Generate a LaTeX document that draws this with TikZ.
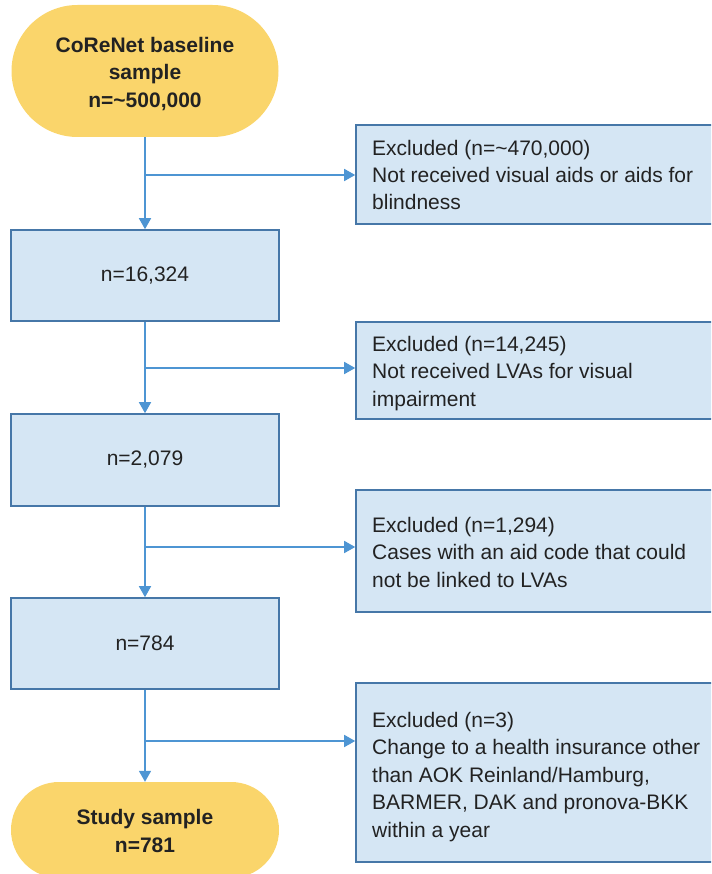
\documentclass[tikz,border=0pt]{standalone}
\usepackage{fontspec}
\setmainfont{Liberation Sans}
\usetikzlibrary{arrows.meta}
\definecolor{ovalfill}{HTML}{FAD56B}
\definecolor{boxfill}{HTML}{D5E6F4}
\definecolor{boxline}{HTML}{4677A8}
\definecolor{arrowc}{HTML}{4E95D3}
\definecolor{txt}{HTML}{222222}
\tikzset{
  oval/.style={draw=none, fill=ovalfill, rounded corners=#1, inner sep=0pt},
  ovaltext/.style={align=center, inner sep=0pt, text=txt, font=\fontsize{21}{27.5}\selectfont\bfseries},
  leftbox/.style={draw=boxline, fill=boxfill, line width=1.6pt, minimum width=268pt, inner sep=0pt,
    text=txt, font=\fontsize{21}{27}\selectfont},
  rightbox/.style={draw=boxline, fill=boxfill, line width=1.6pt, minimum width=358pt, inner sep=0pt},
  rtext/.style={anchor=base west, align=left, inner sep=0pt, text=txt, font=\fontsize{21}{27.4}\selectfont},
  flow/.style={draw=arrowc, line width=1.6pt, -{Triangle[length=11pt,width=12pt]}},
}
\begin{document}
\begin{tikzpicture}[x=1pt,y=-1pt]
\useasboundingbox (0,0) rectangle (711,874);
\clip (0,0) rectangle (711,874);
% left column
\node[oval=66pt, minimum width=267pt, minimum height=132pt] (start) at (145,71) {};
\node[ovaltext] (starttxt) at (145,74) {CoReNet baseline\\sample\\n=\textasciitilde500,000};
\node[leftbox, minimum height=91pt] (b1) at (145,275.5) {n=16,324};
\node[leftbox, minimum height=92pt] (b2) at (145,460) {n=2,079};
\node[leftbox, minimum height=91pt] (b3) at (145,643.5) {n=784};
\node[oval=48pt, minimum width=268pt, minimum height=96pt] (end) at (145,830) {};
\node[ovaltext] (endtxt) at (145,831) {Study sample\\n=781};
% right column boxes
\node[rightbox, minimum height=99pt] (e1) at (535,174.5) {};
\node[rightbox, minimum height=97pt] (e2) at (535,370.5) {};
\node[rightbox, minimum height=122pt] (e3) at (535,551) {};
\node[rightbox, minimum height=179pt] (e4) at (535,772.5) {};
% texts (anchored at the baseline of the last line)
\node[rtext] (t1) at (372,210) {Excluded (n=\textasciitilde470,000)\\Not received visual aids or aids for\\blindness};
\node[rtext] (t2) at (372,406) {Excluded (n=14,245)\\Not received LVAs for visual\\impairment};
\node[rtext] (t3) at (372,587) {Excluded (n=1,294)\\Cases with an aid code that could\\not be linked to LVAs};
\node[rtext] (t4) at (372,837) {Excluded (n=3)\\Change to a health insurance other\\than AOK Reinland/Hamburg,\\BARMER, DAK and pronova-BKK\\within a year};
% branch points
\coordinate (j1) at (145,175);
\coordinate (j2) at (145,368);
\coordinate (j3) at (145,547);
\coordinate (j4) at (145,741);
% connectors
\draw[flow] (start.south) -- (b1.north);
\draw[flow] (b1.south) -- (b2.north);
\draw[flow] (b2.south) -- (b3.north);
\draw[flow] (b3.south) -- (end.north);
\draw[flow] (j1) -- (e1.west |- j1);
\draw[flow] (j2) -- (e2.west |- j2);
\draw[flow] (j3) -- (e3.west |- j3);
\draw[flow] (j4) -- (e4.west |- j4);
\end{tikzpicture}
\end{document}
